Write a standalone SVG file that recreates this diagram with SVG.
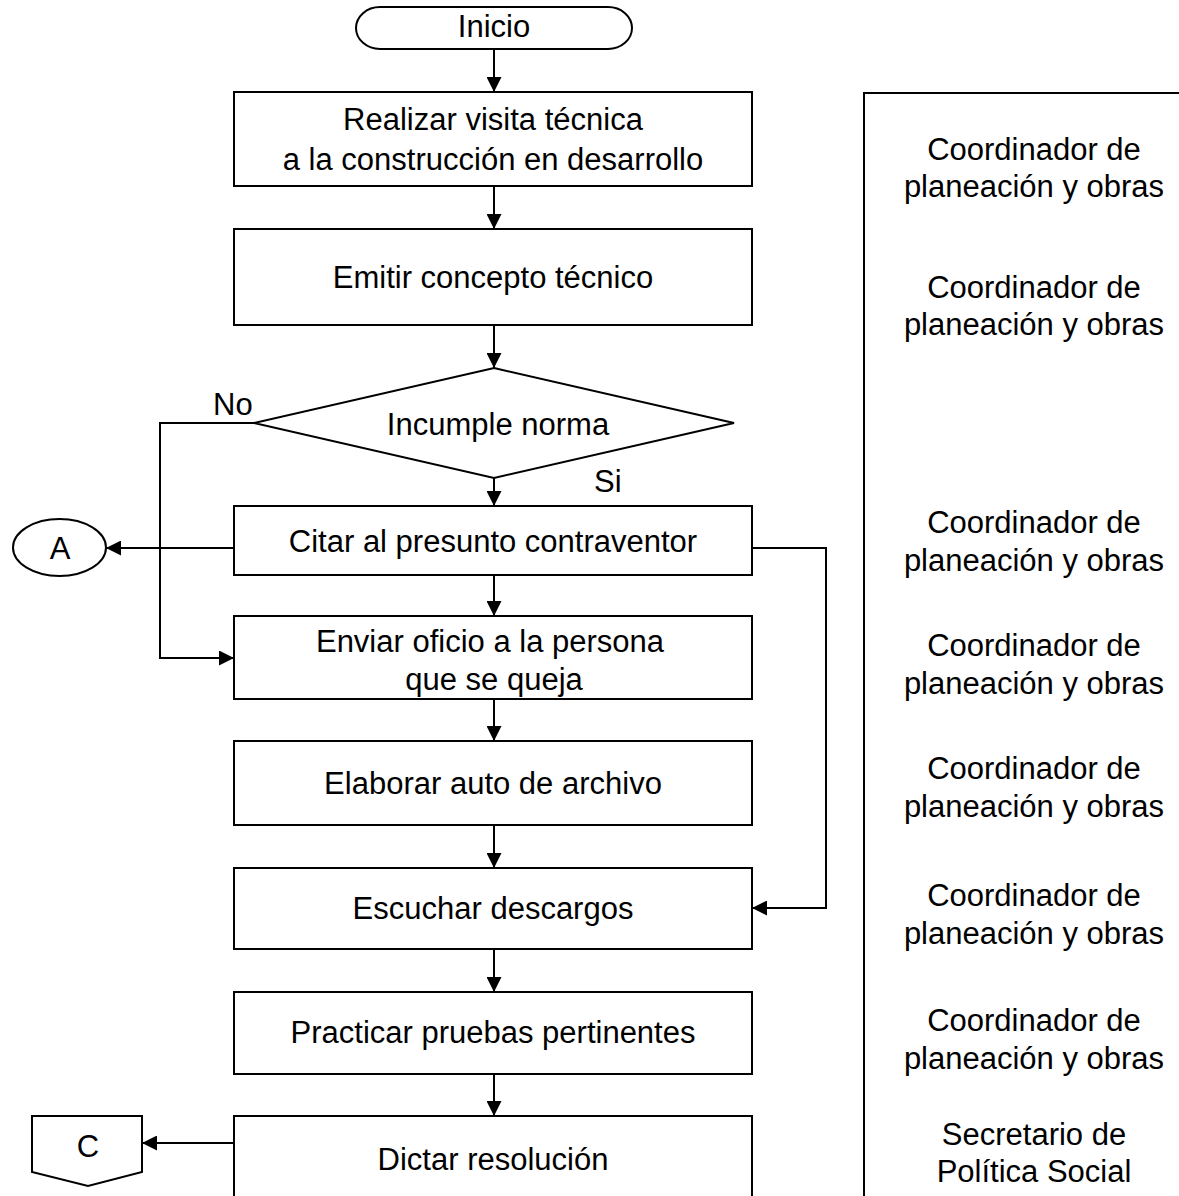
<svg xmlns="http://www.w3.org/2000/svg" width="1179" height="1196" viewBox="0 0 1179 1196">
<style>
.s{fill:#fff;stroke:#000;stroke-width:2}
.t{font-family:"Liberation Sans",Arial,sans-serif;font-size:31px;fill:#000;text-anchor:middle}
.l{font-family:"Liberation Sans",Arial,sans-serif;font-size:31px;fill:#000}
.c{fill:none;stroke:#000;stroke-width:2}
.a{marker-end:url(#ah)}
</style>
<defs>
<marker id="ah" markerUnits="userSpaceOnUse" markerWidth="15" markerHeight="15" refX="15" refY="7.5" orient="auto" viewBox="0 0 15 15">
<path d="M0,0 L15,7.5 L0,15 z" fill="#000"/>
</marker>
</defs>
<rect width="1179" height="1196" fill="#fff"/>
<g id="connectors">
<line class="c a" x1="494" y1="49" x2="494" y2="92"/>
<line class="c a" x1="494" y1="186" x2="494" y2="229"/>
<line class="c a" x1="494" y1="325" x2="494" y2="368"/>
<line class="c a" x1="494" y1="478" x2="494" y2="506"/>
<line class="c a" x1="494" y1="563" x2="494" y2="616"/>
<line class="c a" x1="494" y1="699" x2="494" y2="741"/>
<line class="c a" x1="494" y1="825" x2="494" y2="868"/>
<line class="c a" x1="494" y1="949" x2="494" y2="992"/>
<line class="c a" x1="494" y1="1074" x2="494" y2="1116"/>
<polyline class="c a" points="254,423 160,423 160,658 234,658"/>
<line class="c a" x1="234" y1="548" x2="106" y2="548"/>
<polyline class="c a" points="752,548 826,548 826,908 752,908"/>
<line class="c a" x1="234" y1="1143" x2="142" y2="1143"/>
<text class="l" x="213" y="415">No</text>
<text class="l" x="594" y="492">Si</text>
</g>
<g id="inicio">
<rect class="s" x="356" y="7" width="276" height="42" rx="24" ry="21"/>
<text class="t" x="494" y="37">Inicio</text>
</g>
<g id="realizar">
<rect class="s" x="234" y="92" width="518" height="94"/>
<text class="t" x="493" y="130">Realizar visita técnica</text>
<text class="t" x="493" y="170">a la construcción en desarrollo</text>
</g>
<g id="emitir">
<rect class="s" x="234" y="229" width="518" height="96"/>
<text class="t" x="493" y="288">Emitir concepto técnico</text>
</g>
<g id="incumple">
<polygon class="s" points="494,368 734,423 494,478 254,423"/>
<text class="t" x="498" y="435">Incumple norma</text>
</g>
<g id="citar">
<rect class="s" x="234" y="506" width="518" height="69"/>
<text class="t" x="493" y="552">Citar al presunto contraventor</text>
</g>
<g id="connA">
<ellipse class="s" cx="59.5" cy="547.5" rx="46.5" ry="28.5"/>
<text class="t" x="60" y="559">A</text>
</g>
<g id="enviar">
<rect class="s" x="234" y="616" width="518" height="83"/>
<text class="t" x="490" y="652">Enviar oficio a la persona</text>
<text class="t" x="494" y="690">que se queja</text>
</g>
<g id="elaborar">
<rect class="s" x="234" y="741" width="518" height="84"/>
<text class="t" x="493" y="794">Elaborar auto de archivo</text>
</g>
<g id="escuchar">
<rect class="s" x="234" y="868" width="518" height="81"/>
<text class="t" x="493" y="919">Escuchar descargos</text>
</g>
<g id="practicar">
<rect class="s" x="234" y="992" width="518" height="82"/>
<text class="t" x="493" y="1043">Practicar pruebas pertinentes</text>
</g>
<g id="dictar">
<path class="s" d="M234,1200 L234,1116 L752,1116 L752,1200"/>
<text class="t" x="493" y="1170">Dictar resolución</text>
</g>
<g id="connC">
<polygon class="s" points="32,1116 142,1116 142,1172 88,1186 32,1172"/>
<text class="t" x="88" y="1157">C</text>
</g>
<g id="responsables">
<path class="c" d="M864,1200 L864,93 L1180,93"/>
<text class="t" x="1034" y="160">Coordinador de</text>
<text class="t" x="1034" y="197">planeación y obras</text>
<text class="t" x="1034" y="298">Coordinador de</text>
<text class="t" x="1034" y="335">planeación y obras</text>
<text class="t" x="1034" y="533">Coordinador de</text>
<text class="t" x="1034" y="571">planeación y obras</text>
<text class="t" x="1034" y="656">Coordinador de</text>
<text class="t" x="1034" y="694">planeación y obras</text>
<text class="t" x="1034" y="779">Coordinador de</text>
<text class="t" x="1034" y="817">planeación y obras</text>
<text class="t" x="1034" y="906">Coordinador de</text>
<text class="t" x="1034" y="944">planeación y obras</text>
<text class="t" x="1034" y="1031">Coordinador de</text>
<text class="t" x="1034" y="1069">planeación y obras</text>
<text class="t" x="1034" y="1145">Secretario de</text>
<text class="t" x="1034" y="1182">Política Social</text>
</g>
</svg>
